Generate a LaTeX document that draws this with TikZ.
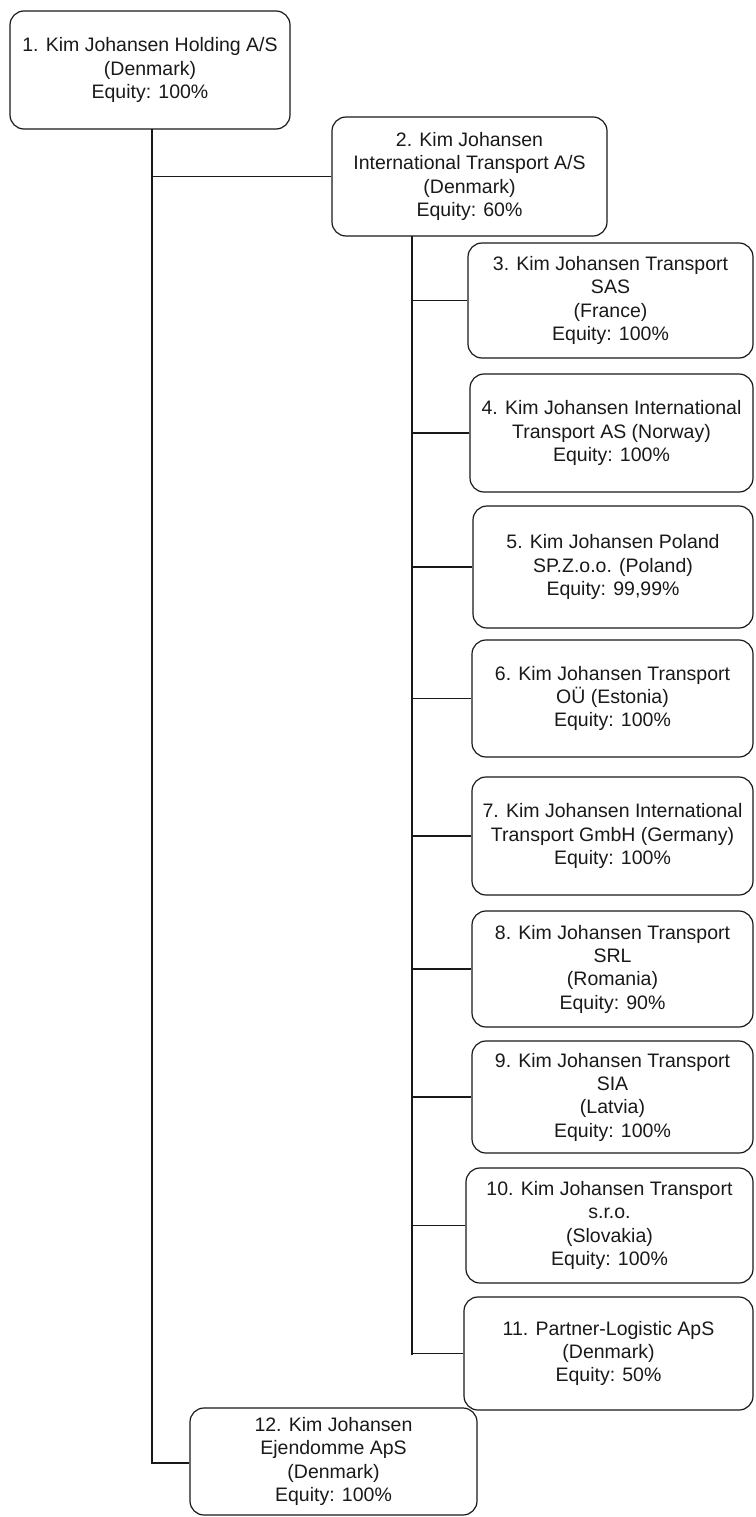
\documentclass[tikz,border=0pt]{standalone}
\usepackage{fontspec}
\setmainfont{Liberation Sans}
\begin{document}
\begin{tikzpicture}[x=1pt,y=-1pt,
  company/.style={draw=black!90, line width=1.2pt, rounded corners=14pt,
    align=center, inner sep=2pt, text=black!90,
    font=\fontsize{19.5}{23.3}\selectfont},
  link/.style={draw=black!90, line width=1.2pt}]
\useasboundingbox (0,0) rectangle (755,1517);
% boxes: centre x, centre y, width, height (pixels)
\node[company, minimum width=280, minimum height=118] (b1) at (150,70)
  {1. Kim Johansen Holding A/S\\(Denmark)\\Equity: 100\%};
\node[company, minimum width=275, minimum height=119] (b2) at (469.5,176.5)
  {2. Kim Johansen\\International Transport A/S\\(Denmark)\\Equity: 60\%};
\node[company, minimum width=285, minimum height=115] (b3) at (610.5,300.5)
  {3. Kim Johansen Transport\\SAS\\(France)\\Equity: 100\%};
\node[company, minimum width=283, minimum height=118] (b4) at (611.5,433)
  {4. Kim Johansen International\\Transport AS (Norway)\\Equity: 100\%};
\node[company, minimum width=280, minimum height=122] (b5) at (613,567)
  {5. Kim Johansen Poland\\SP.Z.o.o. (Poland)\\Equity: 99,99\%};
\node[company, minimum width=281, minimum height=117] (b6) at (612.5,698.5)
  {6. Kim Johansen Transport\\OÜ (Estonia)\\Equity: 100\%};
\node[company, minimum width=281, minimum height=118] (b7) at (612.5,836)
  {7. Kim Johansen International\\Transport GmbH (Germany)\\Equity: 100\%};
\node[company, minimum width=281, minimum height=116] (b8) at (612.5,969)
  {8. Kim Johansen Transport\\SRL\\(Romania)\\Equity: 90\%};
\node[company, minimum width=281, minimum height=112] (b9) at (612.5,1097)
  {9. Kim Johansen Transport\\SIA\\(Latvia)\\Equity: 100\%};
\node[company, minimum width=287, minimum height=115] (b10) at (609.5,1225.5)
  {10. Kim Johansen Transport\\s.r.o.\\(Slovakia)\\Equity: 100\%};
\node[company, minimum width=289, minimum height=113] (b11) at (608.5,1353.5)
  {11. Partner-Logistic ApS\\(Denmark)\\Equity: 50\%};
\node[company, minimum width=287, minimum height=107] (b12) at (333.5,1461.5)
  {12. Kim Johansen\\Ejendomme ApS\\(Denmark)\\Equity: 100\%};
% trunk from holding
\coordinate (t1) at (152,129);
\coordinate (t1end) at (152,1463);
\draw[link] (t1) -- (t1end) -- (b12.west |- t1end);
\draw[link] (t1 |- b2.west) -- (b2.west);
% trunk from international transport
\coordinate (t2) at (412,236);
\coordinate (t2end) at (412,1355);
\draw[link] (t2) -- (t2end);
\foreach \b in {b3,b4,b5,b6,b7,b8,b9,b10,b11}
  \draw[link] (t2 |- \b.west) -- (\b.west);
\end{tikzpicture}
\end{document}
